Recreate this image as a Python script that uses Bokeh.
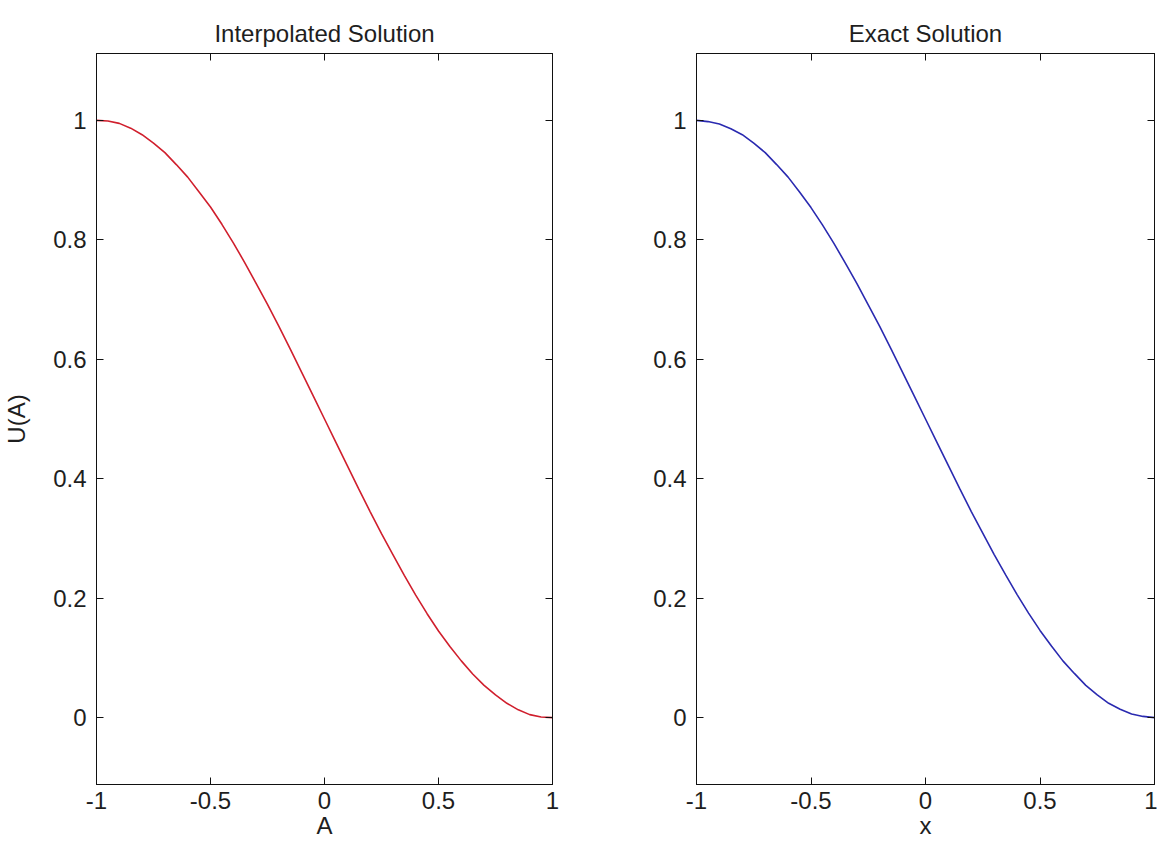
from bokeh.plotting import figure
from bokeh.layouts import row
from bokeh.models import LinearAxis, FixedTicker, Range1d
from bokeh.embed import file_html
from bokeh.resources import INLINE

# ---- data ----
x_vals = [-1.0, -0.95, -0.9, -0.85, -0.8, -0.75, -0.7, -0.65, -0.6, -0.55, -0.5,
          -0.45, -0.4, -0.35, -0.3, -0.25, -0.2, -0.15, -0.1, -0.05, 0.0,
          0.05, 0.1, 0.15, 0.2, 0.25, 0.3, 0.35, 0.4, 0.45, 0.5,
          0.55, 0.6, 0.65, 0.7, 0.75, 0.8, 0.85, 0.9, 0.95, 1.0]
u_interp = [1.000, 0.999, 0.995, 0.987, 0.976, 0.962, 0.946, 0.926, 0.905, 0.880, 0.855,
            0.826, 0.795, 0.762, 0.727, 0.692, 0.655, 0.617, 0.578, 0.539, 0.500,
            0.461, 0.422, 0.383, 0.345, 0.308, 0.273, 0.238, 0.205, 0.174, 0.145,
            0.119, 0.095, 0.073, 0.054, 0.038, 0.024, 0.013, 0.005, 0.001, 0.000]
u_exact = [1.000, 0.998, 0.994, 0.986, 0.976, 0.962, 0.946, 0.926, 0.905, 0.880, 0.854,
           0.825, 0.794, 0.761, 0.727, 0.691, 0.655, 0.617, 0.578, 0.539, 0.500,
           0.461, 0.422, 0.383, 0.345, 0.309, 0.273, 0.239, 0.206, 0.175, 0.146,
           0.120, 0.095, 0.074, 0.054, 0.038, 0.024, 0.014, 0.006, 0.002, 0.000]

x_ticks = [-1, -0.5, 0, 0.5, 1]
x_tick_labels = ["-1", "-0.5", "0", "0.5", "1"]
y_ticks = [0, 0.2, 0.4, 0.6, 0.8, 1]
y_tick_labels = ["0", "0.2", "0.4", "0.6", "0.8", "1"]

titles = ["Interpolated Solution", "Exact Solution"]
x_labels = ["A", "x"]
y_labels = ["U(A)", None]
colors = ["#d01f2d", "#2a2ab0"]

FONT = "Liberation Sans"
TXT = "#1e1e1e"
FS = "24px"


def make(title, xlab, ylab, yvals, color, width, bl, br):
    p = figure(width=width, height=845,
               x_range=Range1d(-1, 1), y_range=Range1d(-0.112, 1.112),
               output_backend="svg", toolbar_location=None,
               min_border_left=bl, min_border_right=br,
               min_border_top=53, min_border_bottom=61,
               title=title)
    p.title.align = "center"
    p.title.text_font = FONT
    p.title.text_font_size = FS
    p.title.text_font_style = "normal"
    p.title.text_color = TXT
    p.title.standoff = 14
    p.grid.visible = False
    p.background_fill_color = "white"
    p.border_fill_color = "white"
    p.outline_line_color = "#111111"
    p.outline_line_width = 1
    p.outline_line_alpha = 1

    p.xaxis.ticker = FixedTicker(ticks=x_ticks)
    p.xaxis.major_label_overrides = dict(zip(x_ticks, x_tick_labels))
    p.yaxis.ticker = FixedTicker(ticks=y_ticks)
    p.yaxis.major_label_overrides = dict(zip(y_ticks, y_tick_labels))
    for ax in (p.xaxis, p.yaxis):
        ax.major_tick_in = 7
        ax.major_tick_out = 0
        ax.minor_tick_line_color = None
        ax.major_tick_line_color = "#111111"
        ax.axis_line_color = "#111111"
        ax.major_label_text_font = FONT
        ax.major_label_text_font_size = FS
        ax.major_label_text_color = TXT
        ax.axis_label_text_font = FONT
        ax.axis_label_text_font_size = FS
        ax.axis_label_text_font_style = "normal"
        ax.axis_label_text_color = TXT
    p.xaxis.major_label_standoff = 7
    p.xaxis.axis_label_standoff = 0
    p.yaxis.major_label_standoff = 10
    p.yaxis.axis_label_standoff = 20
    p.xaxis.axis_label = xlab
    if ylab:
        p.yaxis.axis_label = ylab

    top = LinearAxis(ticker=FixedTicker(ticks=x_ticks), major_label_text_font_size="0px",
                     major_tick_in=7, major_tick_out=0, minor_tick_line_color=None,
                     major_label_standoff=0, axis_line_color="#111111",
                     major_tick_line_color="#111111")
    right = LinearAxis(ticker=FixedTicker(ticks=y_ticks), major_label_text_font_size="0px",
                       major_tick_in=7, major_tick_out=0, minor_tick_line_color=None,
                       major_label_standoff=0, axis_line_color="#111111",
                       major_tick_line_color="#111111")
    p.add_layout(top, "above")
    p.add_layout(right, "right")

    p.line(x_vals, yvals, line_color=color, line_width=1.6)
    return p


p1 = make(titles[0], x_labels[0], y_labels[0], u_interp, colors[0], 624, 90, 72)
p2 = make(titles[1], x_labels[1], y_labels[1], u_exact, colors[1], 533, 72, 3)

layout = row(p1, p2, spacing=0)
open("out.html", "w").write(file_html(layout, INLINE))
